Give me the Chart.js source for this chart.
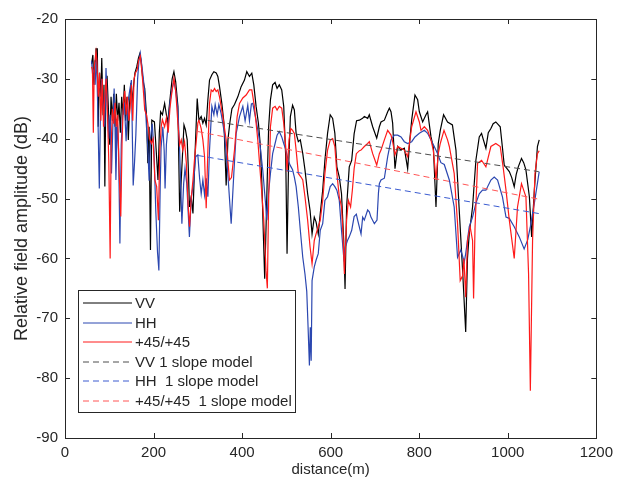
<!DOCTYPE html>
<html>
<head>
<meta charset="utf-8">
<script src="https://cdn.jsdelivr.net/npm/chart.js@4.4.1/dist/chart.umd.min.js"></script>
<style>
  html, body { margin: 0; padding: 0; background: #fff; }
  #chart { display: block; }
</style>
</head>
<body>
<canvas id="chart" width="619" height="486"></canvas>
<script>
// Field amplitude vs distance, three polarisations plus 1-slope fits

const vvDist = [60,63,65,68,70,73,75,78,81,83,86,88,90,92,95,98,101,104,107,110,113,116,119,122,125,128,131,134,137,140,143,146,149,152,155,158,162,166,169,172,175,178,180,184,187,190,193,196,202,206,210,213,216,220,225,229,232,235,238.5,242,246,250,255,259,264,268.7,272,276,279,281,285,289,294,298.6,302.4,307.6,311.4,315.2,318.9,322.7,326.4,331.7,336.2,341.5,345.2,349,354.2,359,364,368,372,377,382.8,390.3,397.8,405.3,410.6,416.6,421.9,426.4,431.6,437,441,444.4,448,451,454,457,460,464,469,474.5,479,484,489.5,494,498.5,501.5,504.5,509,514,518,522,527,531.5,537,542,548,553.5,558,563,567,572,576.5,582,587,593,599,604.5,609.5,614,619.5,624.5,629.5,632.5,636,642,647.5,653,658.5,665,672,676,683.6,687.3,694.9,704,710,713.7,721.3,728.8,732.6,736.3,740,745.3,751.4,755,758.9,766.4,773.9,779,783,790.4,796.5,800.3,807.8,815.3,819,826.6,832,837.9,843,847.6,855,864,875,883,890,898,905,909,913,920.5,928,935.6,940.8,945,950.6,956,961.9,967,973,978,983,988,992,1003.5,1009,1014.6,1019,1023.7,1031,1036,1041,1048.8,1054,1060,1067,1071];
const vvAmp = [-27.5,-26,-31,-27,-25,-25,-38,-29,-33,-26.5,-36,-31,-48,-34,-29.5,-35,-41,-33,-37,-32.5,-38,-32.5,-37,-34,-39,-33,-36,-31,-37,-33,-40.2,-34,-30.7,-34,-31,-29,-28,-26.5,-25.8,-27,-29.5,-31,-31.6,-36,-44.1,-38,-58.6,-36.9,-37.2,-42,-46.9,-39,-35.5,-36,-34.1,-36,-37.4,-35,-32.4,-30,-28.8,-30.5,-34.6,-52.2,-44.7,-37.7,-38.5,-40.2,-46,-51.4,-49.7,-52.5,-41.9,-33.3,-36.9,-36.3,-37.4,-36.6,-37.7,-33.5,-30.2,-29.3,-28.8,-29.0,-29.6,-31.3,-34.1,-37.4,-47.8,-40.2,-37.5,-35,-34.3,-33.0,-31.3,-30.2,-28.8,-29.6,-29.05,-31.0,-34.6,-37.5,-41,-46.9,-56,-63.4,-55,-46,-38,-33.5,-31.0,-30.6,-31.6,-31.0,-31.85,-34.6,-43.0,-59.2,-45.8,-36.3,-34.4,-35.2,-39.1,-40.5,-40.2,-42.5,-45.2,-49.2,-52.0,-55.9,-53.1,-53.9,-55.9,-52.5,-48.6,-43.6,-39.1,-36.0,-36.6,-39.1,-44.7,-46.4,-49.2,-57.0,-65.1,-51.4,-44.7,-43.6,-39.2,-37.0,-36.9,-36.6,-36.3,-36.6,-36.0,-38.0,-39.9,-38.0,-37.2,-36.9,-35.5,-34.9,-35.5,-37.4,-45.0,-41.3,-41.6,-41.9,-41.6,-45.0,-40,-36.9,-32.7,-33.5,-35.5,-37.2,-36.0,-35.5,-39.7,-41.5,-51.4,-40.8,-38.6,-36.0,-37.2,-37.7,-41.9,-51.4,-62.0,-72.3,-60,-55.9,-51.4,-43.6,-39.7,-39.1,-40.2,-41.6,-39,-38.3,-37.5,-37.2,-37.6,-38.0,-41.5,-44.4,-45.5,-46.5,-48.0,-46,-44.7,-43.3,-44,-45.2,-49.7,-56.4,-48.6,-41.3,-40.2];

const hhDist = [60,62,65,68,71,74,77.5,80,83,86,90,92.6,96,99,102,105,108,111,113,115,118,121,124,127,130,134,138,142,146,150,154,157,160,164,167,170,173,177,180,184,187,190,193,197,201,205,209,212,215,217,221,224,226,229,233,237,241,246,250,255,259,264,268,271,275,278,281,285,288,291,295,300,304,307.6,311.4,315.2,318.9,322.7,326.4,331.7,336.2,339.2,343.7,347.5,352.7,360.2,367.7,375.3,381.3,386.6,394.1,401.6,406.8,412.8,416.6,421,424.1,427.8,431.6,439.2,446.7,452,456,459.5,464,469,474.5,479,484,489.5,494,499,504,509,514,518,522,527,531.5,537,542,546,549,552,554,556,558,563,567,572,576.5,582,587,593,599,604.5,609.5,614,619.5,624.5,629.5,633,638,642,647.5,653,658,661,668.6,672.3,676,683.6,687.3,691,698.7,704.7,708,710,713.7,721.3,728.8,736.3,743.8,751.4,758.9,766.4,773.9,783,790.4,800.3,811.6,819,826.6,834,841.6,849,856.6,868,879,886.6,894,901.7,905,913,920.5,928,935.6,943,950.6,961.9,969.4,977,988,996,1003.5,1014.6,1026,1037,1045,1051,1060,1071];
const hhAmp = [-27,-29,-28.5,-31,-26,-35,-48.3,-36,-30,-34,-38,-28.2,-35,-40,-36,-45.8,-38,-31.6,-38,-46.9,-37,-42,-57.5,-41,-36,-34,-40.4,-34,-32,-30.2,-47.8,-44,-39.4,-30,-27,-25.7,-27.5,-30,-32.5,-38,-41.5,-47,-40,-37.5,-42,-52,-59,-62,-48,-41.5,-38,-42,-48.3,-41,-37.5,-34,-32,-30.3,-32,-35.2,-42,-54.2,-47.5,-45,-47.5,-52,-56.4,-50,-48.5,-46.9,-43,-42.7,-46.6,-49.2,-46.9,-49.4,-46.6,-49.7,-41.9,-34.6,-36.0,-34.3,-36.0,-34.3,-35.8,-39.1,-45.8,-54.2,-45.8,-39.1,-36.3,-34.6,-37,-34.4,-37,-34.2,-34.1,-35.5,-36.9,-40.2,-45.3,-50,-53.6,-49.2,-45.8,-42.5,-40.8,-39.4,-38.8,-39.7,-40.8,-41.9,-43.6,-44.5,-45.2,-46.4,-48.0,-51.4,-55.3,-59.8,-62.6,-65.5,-71.5,-77.9,-71.5,-77.1,-63.7,-61.4,-60.3,-59.2,-55.3,-54.2,-50.3,-49.7,-48.0,-47.5,-48.0,-48.6,-50.3,-55.3,-59.8,-58.1,-57.0,-56.4,-55.3,-53,-52.6,-53.6,-55.9,-53.1,-53.6,-51.9,-52.2,-53.1,-54.2,-53.6,-49,-47.5,-46.9,-46.6,-43.0,-40.2,-39.4,-39.4,-39.7,-40.5,-40.8,-40.5,-39.7,-39.1,-38.6,-39.1,-40.2,-41.3,-42.5,-44,-44.3,-46.9,-51.4,-59.8,-58.6,-60.6,-59.2,-54.7,-53.1,-50.8,-49.2,-48.6,-48.6,-46.9,-46.4,-46.9,-49.7,-53.1,-53.3,-54.7,-56.4,-58.4,-56.9,-54.7,-50.8,-45.5];

const pDist = [60,62,64,66,70,72,75,78,81,84,87,90,93,96,99,102,104,107,110,113,116,119,122,126,129,132,135,138,141,144,147,150,153,156,159,163,166,170,174,178,180,184,187,191,195,199,203,207,211,214,217.4,220,225,229,233,237,240,246,250,255,259,262.6,266,270,274,278,281.3,285,289,293,296,300,302.4,307.6,311.4,315.2,318.9,322.7,326.4,330.2,334,337.7,341.5,345.2,349,356.5,364,371.5,376,382.8,388.8,394.1,401.6,409.1,416.6,421.9,427.8,435.4,442.9,448.9,454,457,460,462,464,469,474.5,479,484,489.5,494,498.5,501.5,506,510,514,518,522,527,533,537,542,548,553.5,558,563,567,572,576.5,582,587,593,599,604.5,609.5,614,619.5,624.5,628,631,636,640,645,649,653,658,665,668.6,676,683.6,687.3,694.9,704,710,713.7,721.3,728.8,736.3,740,745.3,751.4,758.9,766.4,773.9,783,792.7,800.3,804,811.6,819,826.6,832,837.9,843,847.6,856,864,868,879,886.6,892.6,898,901,905,909,915,920.5,922.8,926,931.8,940.8,950.6,961.9,973,983,990,996,1003.5,1014.6,1022,1031,1041,1047,1051,1056,1061.5,1067,1071];
const pAmp = [-28,-28.5,-39,-28,-25.5,-27,-33,-29,-37,-30,-38,-33,-30,-36,-44,-60,-42,-35,-37.5,-34,-38,-36,-45,-53,-40,-34,-32,-36,-33,-37,-35,-31,-37,-30,-29,-28.5,-27,-26.2,-29,-33,-35.2,-36,-37.4,-40,-40.8,-40,-46.9,-48,-53.6,-42,-37.9,-36.8,-38,-36.5,-39,-35,-33.0,-29.9,-32,-37.4,-41,-40.2,-41.9,-40.5,-44,-51,-54.7,-50,-46.9,-43,-40.8,-37.4,-36.9,-38.3,-40.2,-43.0,-51.6,-41.9,-34.1,-31.85,-32.1,-31.6,-32.1,-31.85,-33.0,-36.3,-40.2,-46.9,-46.5,-41.9,-36.3,-34.1,-33.2,-32.7,-31.85,-31.85,-34.6,-40.2,-47.5,-53.6,-62,-65,-50,-44.7,-38.0,-34.9,-34.6,-35.2,-34.6,-34.9,-37.4,-41.3,-45.5,-40.2,-38.3,-38.6,-39.1,-41.9,-45.8,-46.4,-46.9,-49.7,-53.6,-58.1,-60.9,-57.0,-55.9,-54.7,-53.6,-50.3,-45.8,-41.9,-40.2,-40.0,-41.3,-45.8,-49.7,-51.4,-56,-62.6,-53.6,-50.3,-51.4,-48.6,-45,-42.5,-42.0,-41.9,-41.3,-40.8,-40.5,-42.5,-44.4,-42.5,-41.9,-40.2,-38.6,-39.4,-40.5,-42.7,-41.3,-41.6,-41.9,-43.0,-38.0,-35.5,-37.2,-38.6,-38.0,-38.6,-40.2,-42,-46.9,-42.5,-40.8,-38.6,-40.2,-41.3,-45.8,-54.2,-63.7,-62.9,-60,-66.5,-57,-54.7,-57.0,-66.7,-55,-44.1,-43.6,-44.7,-41.3,-40.8,-41.3,-45,-48.6,-53.6,-60.0,-51.4,-47.5,-49.7,-62.6,-82.1,-57.0,-45.8,-42.5,-42.0];

// 1-slope model lines (end points of each fit)
const modelDist = [300, 1070];
const vvModel = [-36.7, -45.5];
const hhModel = [-42.8, -52.5];
const pModel = [-38.8, -50.1];

const xTicks = [0, 200, 400, 600, 800, 1000, 1200];
const yTicks = [-90, -80, -70, -60, -50, -40, -30, -20];

const FONT = '"Liberation Sans", Arial, Helvetica, sans-serif';
const TEXT = '#262626';

const pts = (xs, ys) => xs.map((x, i) => ({ x, y: ys[i] }));

const series = [
    { label: 'VV', data: pts(vvDist, vvAmp), color: '#000000', dash: [], width: 1.2, order: 5 },
    { label: 'HH', data: pts(hhDist, hhAmp), color: '#2b47b0', dash: [], width: 1.2, order: 4 },
    { label: '+45/+45', data: pts(pDist, pAmp), color: '#ff1a1a', dash: [], width: 1.2, order: 3 },
    { label: 'VV 1 slope model', data: pts(modelDist, vvModel), color: '#4d4d4d', dash: [6, 4], width: 1, order: 2 },
    { label: 'HH  1 slope model', data: pts(modelDist, hhModel), color: '#3a5bd0', dash: [6, 4], width: 1, order: 1 },
    { label: '+45/+45  1 slope model', data: pts(modelDist, pModel), color: '#ff5555', dash: [6, 4], width: 1, order: 0 }
];

// box + inward ticks, matlab style
const boxPlugin = {
    id: 'box',
    afterDraw(chart) {
        const { ctx, chartArea: a, scales } = chart;
        ctx.save();
        ctx.strokeStyle = TEXT;
        ctx.lineWidth = 1;
        ctx.strokeRect(Math.round(a.left) + 0.5, Math.round(a.top) + 0.5,
            Math.round(a.right - a.left), Math.round(a.bottom - a.top));
        const len = 5;
        ctx.beginPath();
        xTicks.forEach(v => {
            const px = Math.round(scales.x.getPixelForValue(v)) + 0.5;
            ctx.moveTo(px, a.bottom); ctx.lineTo(px, a.bottom - len);
            ctx.moveTo(px, a.top); ctx.lineTo(px, a.top + len);
        });
        yTicks.forEach(v => {
            const py = Math.round(scales.y.getPixelForValue(v)) + 0.5;
            ctx.moveTo(a.left, py); ctx.lineTo(a.left + len, py);
            ctx.moveTo(a.right, py); ctx.lineTo(a.right - len, py);
        });
        ctx.stroke();
        ctx.restore();
    }
};

// legend box in lower left
const legendPlugin = {
    id: 'boxLegend',
    afterDraw(chart) {
        const { ctx } = chart;
        const x0 = 78.5, y0 = 290.5, w = 217, h = 122;
        ctx.save();
        ctx.fillStyle = '#fff';
        ctx.fillRect(x0, y0, w, h);
        ctx.strokeStyle = TEXT;
        ctx.lineWidth = 1;
        ctx.strokeRect(x0, y0, w, h);
        ctx.font = '15px ' + FONT;
        ctx.textBaseline = 'middle';
        series.forEach((s, i) => {
            const y = Math.round(303 + i * 19.5);
            ctx.beginPath();
            ctx.strokeStyle = s.color;
            ctx.lineWidth = 1;
            ctx.setLineDash(s.dash);
            ctx.moveTo(83, y);
            ctx.lineTo(132, y);
            ctx.stroke();
            ctx.setLineDash([]);
            ctx.fillStyle = TEXT;
            ctx.fillText(s.label, 135, y + 1);
        });
        ctx.restore();
    }
};

new Chart(document.getElementById('chart'), {
    type: 'line',
    data: {
        datasets: series.map(s => ({
            label: s.label,
            data: s.data,
            borderColor: s.color,
            borderWidth: s.width,
            borderDash: s.dash,
            pointRadius: 0,
            tension: 0,
            fill: false,
            order: s.order
        }))
    },
    options: {
        responsive: false,
        animation: false,
        events: [],
        layout: { padding: { top: 19, right: 22, left: 0, bottom: 0 } },
        plugins: { legend: { display: false }, tooltip: { enabled: false } },
        scales: {
            x: {
                type: 'linear',
                min: 0,
                max: 1200,
                afterBuildTicks: s => { s.ticks = xTicks.map(v => ({ value: v })); },
                ticks: { color: TEXT, font: { family: FONT, size: 15 }, padding: 6, maxRotation: 0, callback: v => String(v) },
                grid: { drawOnChartArea: false, drawTicks: false },
                border: { color: TEXT, width: 1 },
                title: { display: true, text: 'distance(m)', color: TEXT, font: { family: FONT, size: 15 }, padding: { top: 0, bottom: 7 } },
                afterFit: s => { s.height = 48; }
            },
            y: {
                type: 'linear',
                min: -90,
                max: -20,
                afterBuildTicks: s => { s.ticks = yTicks.map(v => ({ value: v })); },
                ticks: { color: TEXT, font: { family: FONT, size: 15 }, padding: 7, callback: v => String(v) },
                grid: { drawOnChartArea: false, drawTicks: false },
                border: { color: TEXT, width: 1 },
                title: { display: true, text: 'Relative field amplitude (dB)', color: TEXT, font: { family: FONT, size: 18 }, padding: { top: 11, bottom: 0 } },
                afterFit: s => { s.width = 65; }
            }
        }
    },
    plugins: [boxPlugin, legendPlugin]
});
</script>
</body>
</html>
